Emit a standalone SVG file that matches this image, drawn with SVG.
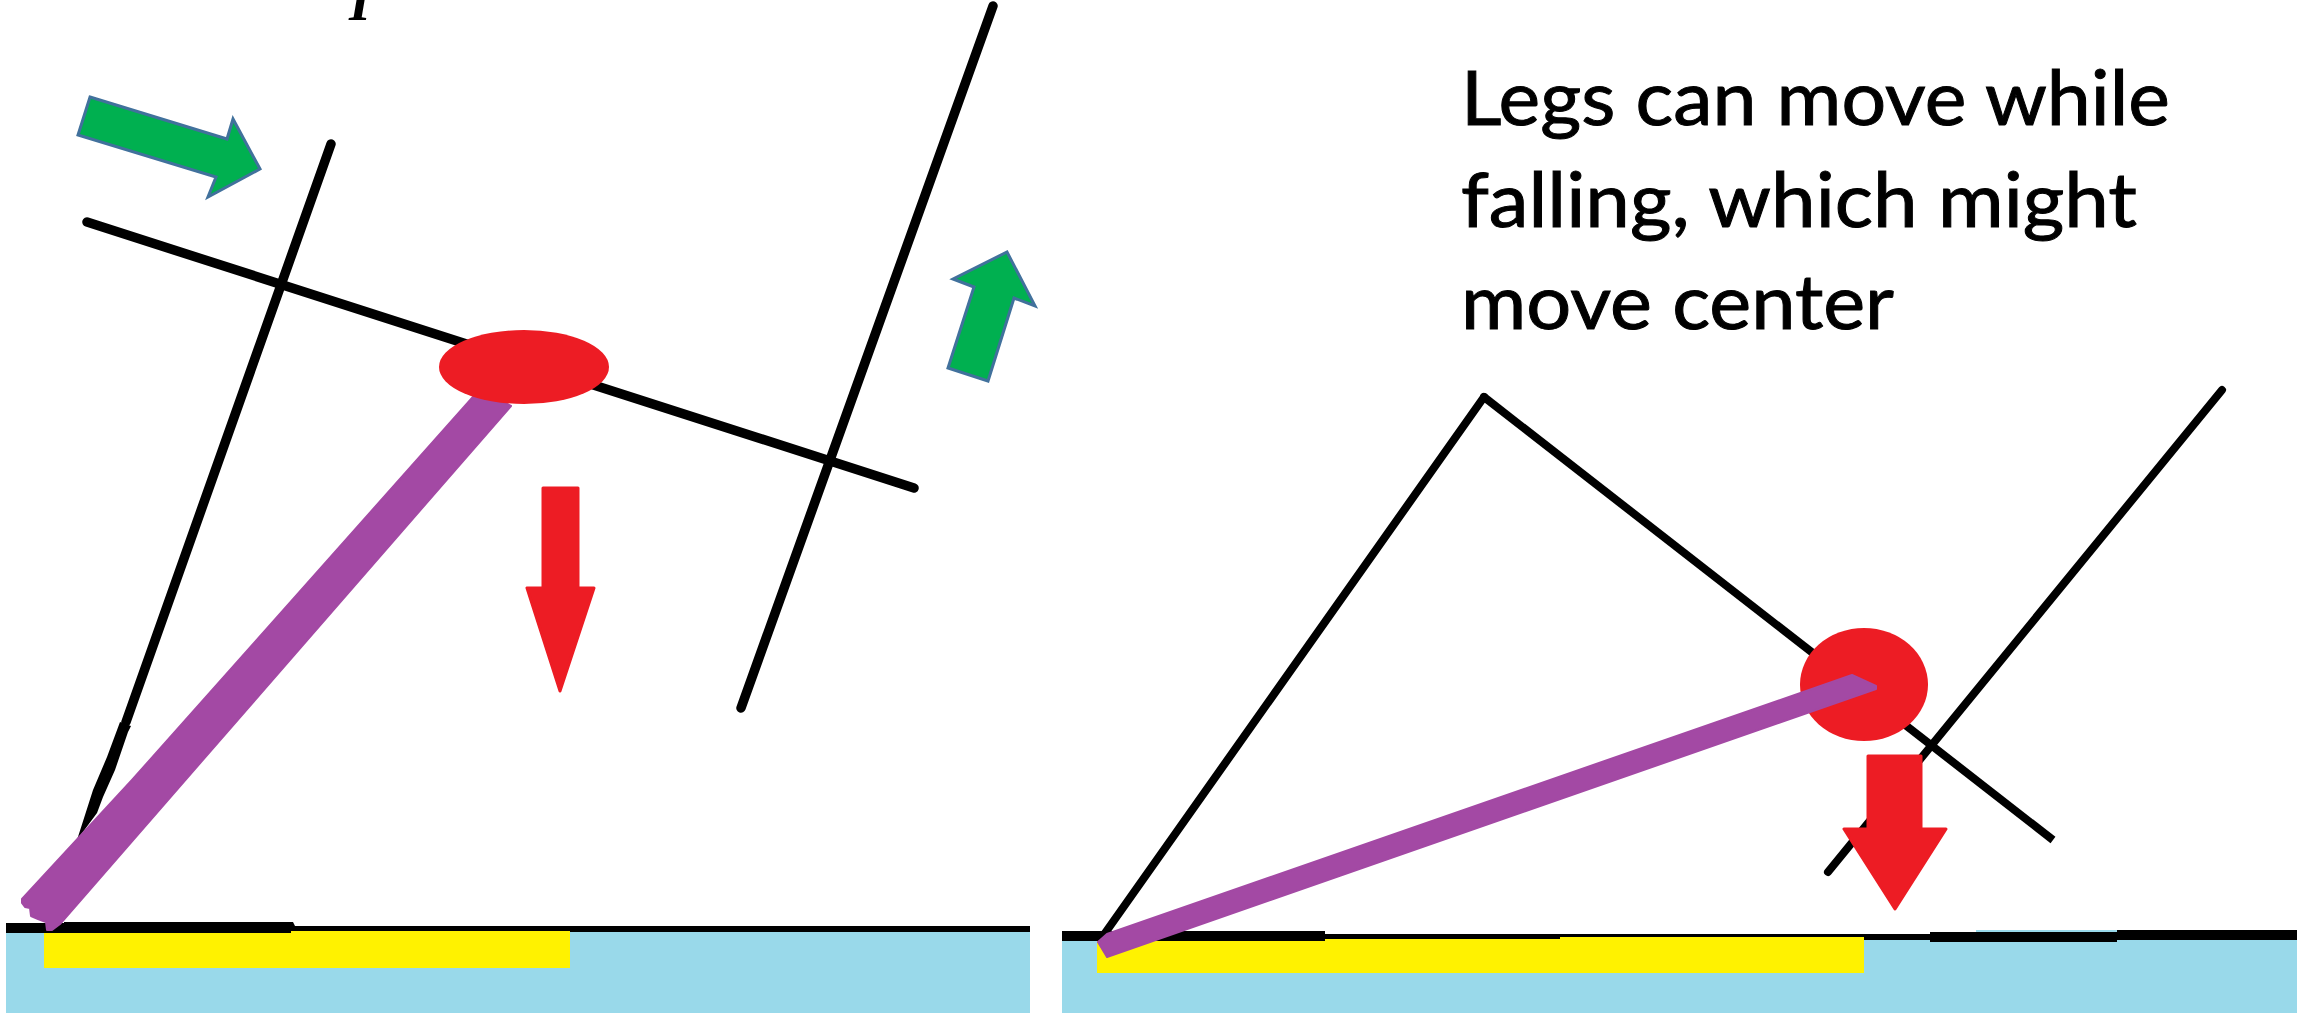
<svg xmlns="http://www.w3.org/2000/svg" width="2297" height="1013" viewBox="0 0 2297 1013">
<style>
.leg{fill:none;stroke:#000;stroke-width:9.5;stroke-linecap:round;stroke-linejoin:round}
.legr{fill:none;stroke:#000;stroke-width:8;stroke-linecap:round}
.green{fill:#00b050;stroke:#41719c;stroke-width:3}
.red{fill:#ed1c24;stroke:#ed1c24;stroke-width:3;stroke-linejoin:round}
.mass{fill:#ed1c24}
.purple{fill:#a349a4;stroke:#a349a4;stroke-width:2;stroke-linejoin:round}
.ground{fill:#99d9ea}
.yellow{fill:#fff200}
.t{font-family:Lato,"Noto Sans",sans-serif;font-size:76px;fill:#000;stroke:#000;stroke-width:1}
</style>
<rect width="2297" height="1013" fill="#fff"/>
<g id="panel-left">
<rect class="ground" x="6" y="932" width="1024" height="81"/>
<path d="M6 923H64V922H293L295 926H1030V932H291V933H6Z" fill="#000"/>
<path class="yellow" d="M44 933H291V931H570V968H44Z"/>
</g>
<g id="panel-right">
<rect class="ground" x="1062" y="940" width="1235" height="73"/>
<rect class="ground" x="1976" y="930" width="141" height="3"/>
<path d="M1062 931H1325V934H1930V932H2117V930H2297V940H2117V942H1930V940H1325V941H1062Z" fill="#000"/>
<path class="yellow" d="M1097 941H1325V939H1560V937H1864V973H1097Z"/>
</g>
<g id="connectors">
<path class="leg" d="M331 144L126 722"/>
<path d="M120 722L131 726L128 732L115 770L103 797L97 813L77 840L93 790L107 757Z" fill="#000"/>
<path class="leg" d="M87 222L914 488"/>
<path class="leg" d="M993 6L741 708"/>
<path class="legr" d="M1484 397L1103 936"/>
<path class="legr" d="M1484 397L2053 840" style="stroke-linecap:butt"/>
<path class="legr" d="M2222 390L1828 872"/>
<circle cx="1484" cy="397" r="4"/>
</g>
<g id="leg-left"><path class="purple" d="M480 389L511 406L60 924L52 930L47 930L46 922L38 919L31 916L30 908L25 907L22 903L22 899L132 780Z"/></g>
<g id="mass-left"><ellipse class="mass" cx="524" cy="367" rx="85" ry="37"/></g>
<g id="mass-right"><ellipse class="mass" cx="1864" cy="684.5" rx="64" ry="56.5"/></g>
<g id="leg-right"><path class="purple" d="M1852 675L1876 686V689L1107 957L1098 942L1107 934Z"/></g>
<g id="arrow-green-1"><path class="green" d="M90 97L227 139L233 119L260 169L208 197L216 177L78 135Z"/></g>
<g id="arrow-green-2"><path class="green" d="M988 381L948 368L974 287L953 279L1007 252L1035 306L1014 298Z"/></g>
<g id="arrow-red-1"><path class="red" d="M543 488H578V588H594L560 691L527 588H543Z"/></g>
<g id="arrow-red-2"><path class="red" d="M1868 756H1921V829H1946L1895 909L1844 829H1868Z"/></g>
<g id="texts">
<text class="t" x="1461" y="125" textLength="709" lengthAdjust="spacingAndGlyphs">Legs can move while</text>
<text class="t" x="1461" y="227" textLength="676" lengthAdjust="spacingAndGlyphs">falling, which might</text>
<text class="t" x="1461" y="329" textLength="433" lengthAdjust="spacingAndGlyphs">move center</text>
<text x="349" y="20" font-family="Liberation Serif,serif" font-style="italic" font-weight="bold" font-size="56">I</text>
</g>
</svg>
